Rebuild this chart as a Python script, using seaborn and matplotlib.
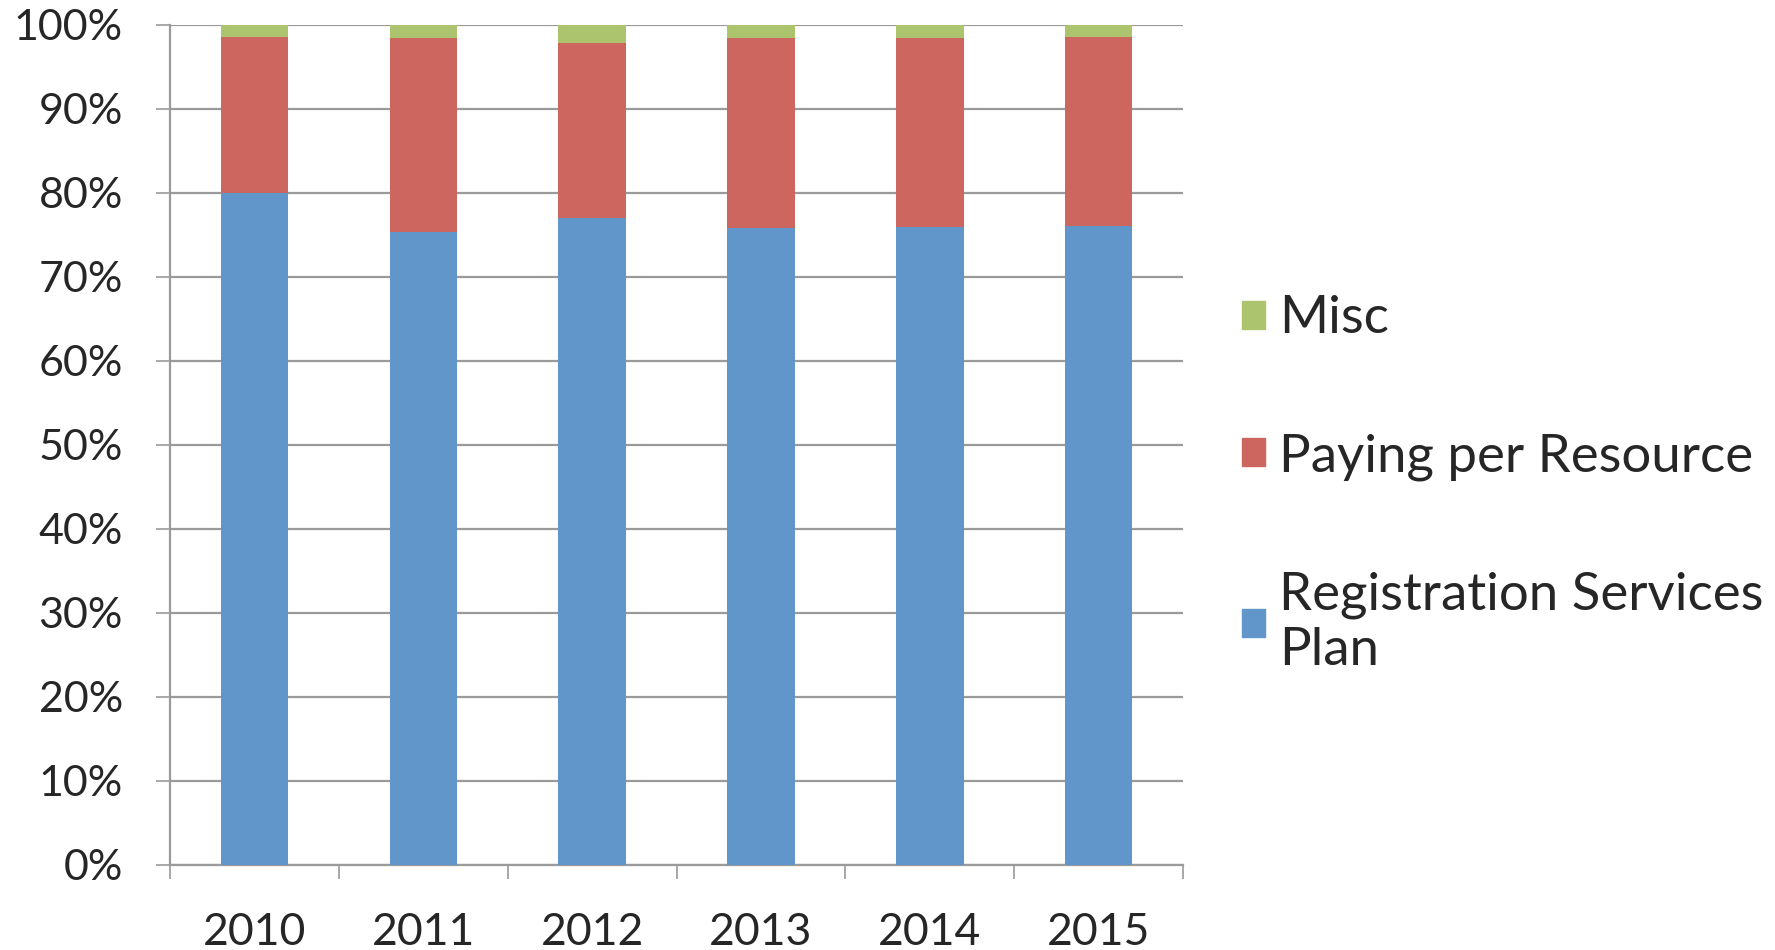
import numpy as np
import pandas as pd
import seaborn as sns
import matplotlib.pyplot as plt
from matplotlib.patches import Patch
from matplotlib.ticker import FixedLocator, PercentFormatter

# === data ===
years = ["2010", "2011", "2012", "2013", "2014", "2015"]
registration = [80.0, 75.3, 77.0, 75.8, 75.9, 76.1]
paying = [18.6, 23.15, 20.9, 22.6, 22.6, 22.5]
misc = [1.4, 1.55, 2.1, 1.6, 1.5, 1.4]

series_names = ["Registration Services\nPlan", "Paying per Resource", "Misc"]
colors = ["#6096C9", "#CD665F", "#ABC46D"]

df = pd.DataFrame({"year": years, "reg": registration, "pay": paying, "misc": misc})
df["top_reg"] = df["reg"]
df["top_pay"] = df["reg"] + df["pay"]
df["top_misc"] = df["reg"] + df["pay"] + df["misc"]

sns.set_theme(style="white")
plt.rcParams["font.family"] = ["Lato", "DejaVu Sans"]

fig = plt.figure(figsize=(17.75, 9.5), dpi=100)
ax = fig.add_axes([0.0958, 0.0895, 0.5707, 0.8842])

# stacked bars drawn as overlapping cumulative totals (tallest first)
for col, c in zip(["top_misc", "top_pay", "top_reg"], colors[::-1]):
    sns.barplot(data=df, x="year", y=col, color=c, width=0.4,
                saturation=1, linewidth=0, ax=ax, zorder=3)

ax.set_ylim(0, 100)
ax.set_xlim(-0.5, 5.5)
ax.set_yticks(np.arange(0, 101, 10))
ax.yaxis.set_major_formatter(PercentFormatter(decimals=0))
ax.grid(axis="y", color="#9A9A9A", linewidth=1.6, zorder=0)
ax.set_axisbelow(True)
ax.set_xlabel("")
ax.set_ylabel("")

for s in ["top", "right"]:
    ax.spines[s].set_visible(False)
for s in ["left", "bottom"]:
    ax.spines[s].set_color("#9A9A9A")
    ax.spines[s].set_linewidth(1.6)

ax.xaxis.set_minor_locator(FixedLocator(np.arange(-0.5, 6, 1)))
ax.tick_params(axis="x", which="major", length=0, pad=34, labelsize=32)
ax.tick_params(axis="x", which="minor", length=10, width=1.2, color="#9A9A9A", direction="out", bottom=True)
ax.tick_params(axis="y", length=10, width=1.2, color="#9A9A9A", direction="out", left=True, pad=24, labelsize=31)

handles = [Patch(color=c, label=n) for c, n in zip(colors, series_names)][::-1]
fig.legend(handles=handles, loc="center left", bbox_to_anchor=(0.6997, 0.49),
           frameon=False, fontsize=38, labelspacing=1.72, handlelength=0.44,
           handleheight=0.44, handletextpad=0.26, borderaxespad=0, borderpad=0)

fig.savefig("out.png", dpi=100)
